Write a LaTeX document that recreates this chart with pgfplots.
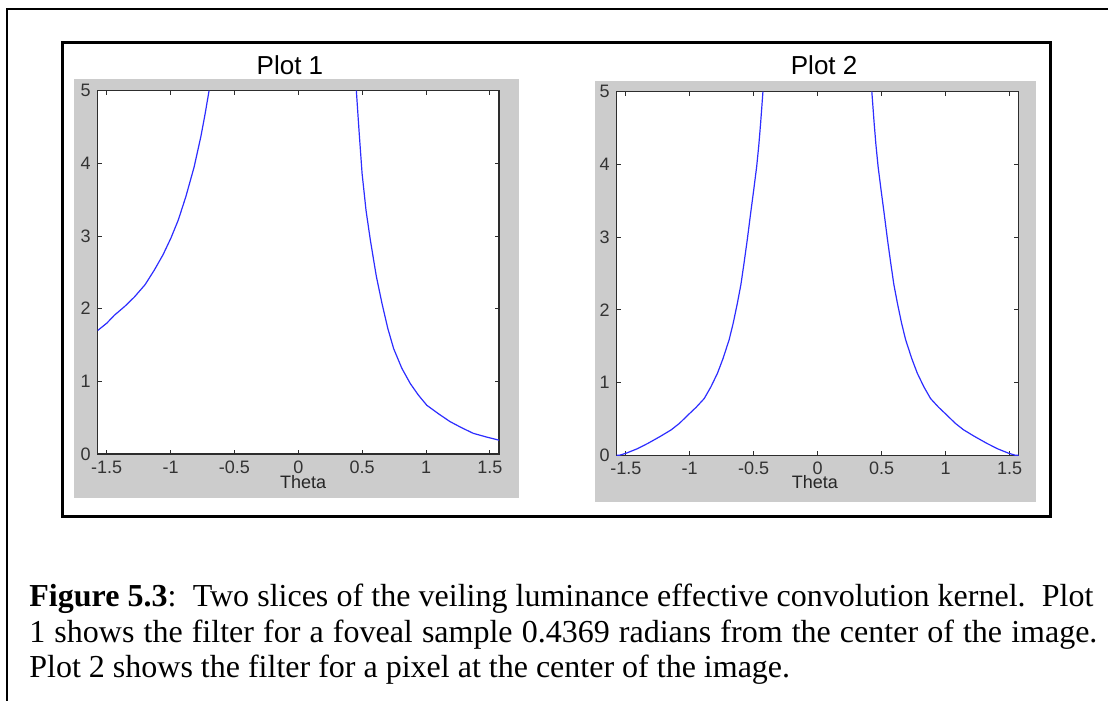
\documentclass[border=0pt]{standalone}
\usepackage{fontspec}
\setmainfont{Liberation Serif}
\newfontfamily\plotfont{Liberation Sans}
\usepackage{pgfplots}
\pgfplotsset{compat=1.18}
\usepackage{pgfplotstable}

\definecolor{mgray}{RGB}{204,204,204}
\definecolor{mblue}{RGB}{45,45,255}
\definecolor{axgray}{RGB}{45,45,45}

\pgfplotstableread{
x y
-1.5708 1.70
-1.50 1.80
-1.44 1.91
-1.36 2.03
-1.284 2.16
-1.20 2.33
-1.128 2.53
-1.06 2.74
-0.998 2.97
-0.94 3.22
-0.881 3.54
-0.816 3.95
-0.763 4.37
-0.730 4.68
-0.699 5.00
}\plotAleft
\pgfplotstableread{
x y
0.454 5.00
0.475 4.45
0.499 3.86
0.530 3.35
0.564 2.94
0.610 2.45
0.655 2.07
0.700 1.73
0.746 1.45
0.810 1.18
0.876 0.97
0.940 0.81
1.006 0.67
1.100 0.55
1.188 0.445
1.280 0.36
1.370 0.284
1.470 0.235
1.5708 0.19
}\plotAright
\pgfplotstableread{
x y
-1.5708 0.00
-1.550 0.00
-1.495 0.03
-1.410 0.09
-1.326 0.165
-1.230 0.26
-1.145 0.35
-1.080 0.44
-1.016 0.55
-0.950 0.66
-0.887 0.78
-0.835 0.94
-0.783 1.13
-0.740 1.33
-0.692 1.59
-0.660 1.82
-0.628 2.09
-0.600 2.35
-0.576 2.64
-0.550 2.97
-0.524 3.33
-0.500 3.65
-0.477 3.97
-0.460 4.27
-0.446 4.57
-0.428 5.00
}\plotBleft
\pgfplotstableread{
x y
0.423 5.00
0.441 4.57
0.455 4.27
0.472 3.97
0.495 3.65
0.519 3.33
0.545 2.97
0.571 2.64
0.595 2.35
0.623 2.09
0.655 1.82
0.687 1.59
0.735 1.33
0.778 1.13
0.830 0.94
0.882 0.78
0.945 0.66
1.011 0.55
1.075 0.44
1.140 0.35
1.225 0.26
1.321 0.165
1.405 0.09
1.490 0.03
1.545 0.00
1.5708 0.00
}\plotBright

\pgfplotsset{
  mstyle/.style={
    scale only axis,
    anchor=south west,
    xmin=-1.5708, xmax=1.5708, ymin=0, ymax=5,
    xtick={-1.5,-1,-0.5,0,0.5,1,1.5},
    xticklabels={-1.5,-1,-0.5,0,0.5,1,1.5},
    ytick={0,1,2,3,4,5},
    yticklabels={0,1,2,3,4,5},
    tick align=inside,
    major tick length=2.2pt,
    axis line style={axgray, line width=0.75pt},
    major tick style={axgray, line width=0.5pt},
    tick label style={font=\plotfont\fontsize{9}{10.5}\selectfont, text=black!80},
    xticklabel style={anchor=base, yshift=-9.8pt},
    axis background/.style={fill=white},
    xlabel={Theta},
    label style={font=\plotfont\fontsize{9}{10.5}\selectfont, text=black!85},
    every axis title/.style={font=\plotfont\fontsize{13}{15}\selectfont, anchor=base},
    clip=true,
  }
}

\begin{document}
\begin{tikzpicture}
\path[use as bounding box] (0,0) rectangle (554pt,350.5pt);
% outer page lines
\draw[black, line width=1pt] (3.35pt,0) -- (3.35pt,345.85pt) -- (554pt,345.85pt);
% inner figure frame
\draw[black, line width=1.5pt] (31.15pt,92pt) rectangle (525pt,329.15pt);
% gray figure backgrounds
\fill[mgray] (37pt,101.5pt) rectangle (259.5pt,311pt);
\fill[mgray] (297.5pt,99.5pt) rectangle (518pt,310pt);

\begin{axis}[mstyle,
  at={(48.85pt,123.5pt)}, width=200.65pt, height=181.65pt,
  title={Plot 1},
  title style={at={(axis description cs:0.479,1)}, yshift=8.2pt},
  xlabel style={at={(axis description cs:0.512,0)}, anchor=base, yshift=-17.15pt}]
\addplot[mblue, line width=0.6pt, no marks] table[x=x,y=y] {\plotAleft};
\addplot[mblue, line width=0.6pt, no marks] table[x=x,y=y] {\plotAright};
\end{axis}

\begin{axis}[mstyle,
  at={(308.35pt,122.85pt)}, width=201pt, height=181.8pt,
  title={Plot 2},
  title style={at={(axis description cs:0.516,1)}, yshift=8.7pt},
  xlabel style={at={(axis description cs:0.493,0)}, anchor=base, yshift=-16.5pt}]
\addplot[mblue, line width=0.6pt, no marks] table[x=x,y=y] {\plotBleft};
\addplot[mblue, line width=0.6pt, no marks] table[x=x,y=y] {\plotBright};
\end{axis}

% caption
\node[anchor=base west, inner sep=0] at (14.5pt,47pt)
  {\fontsize{16}{18}\selectfont\makebox[532pt][s]{\textbf{Figure 5.3}:\ \ Two slices of the veiling luminance effective convolution kernel.\ \ Plot}};
\node[anchor=base west, inner sep=0] at (14.5pt,29.25pt)
  {\fontsize{16}{18}\selectfont\makebox[534pt][s]{1 shows the filter for a foveal sample 0.4369 radians from the center of the image.}};
\node[anchor=base west, inner sep=0] at (14.5pt,11.5pt)
  {\fontsize{16}{18}\selectfont Plot 2 shows the filter for a pixel at the center of the image.};
\end{tikzpicture}
\end{document}
